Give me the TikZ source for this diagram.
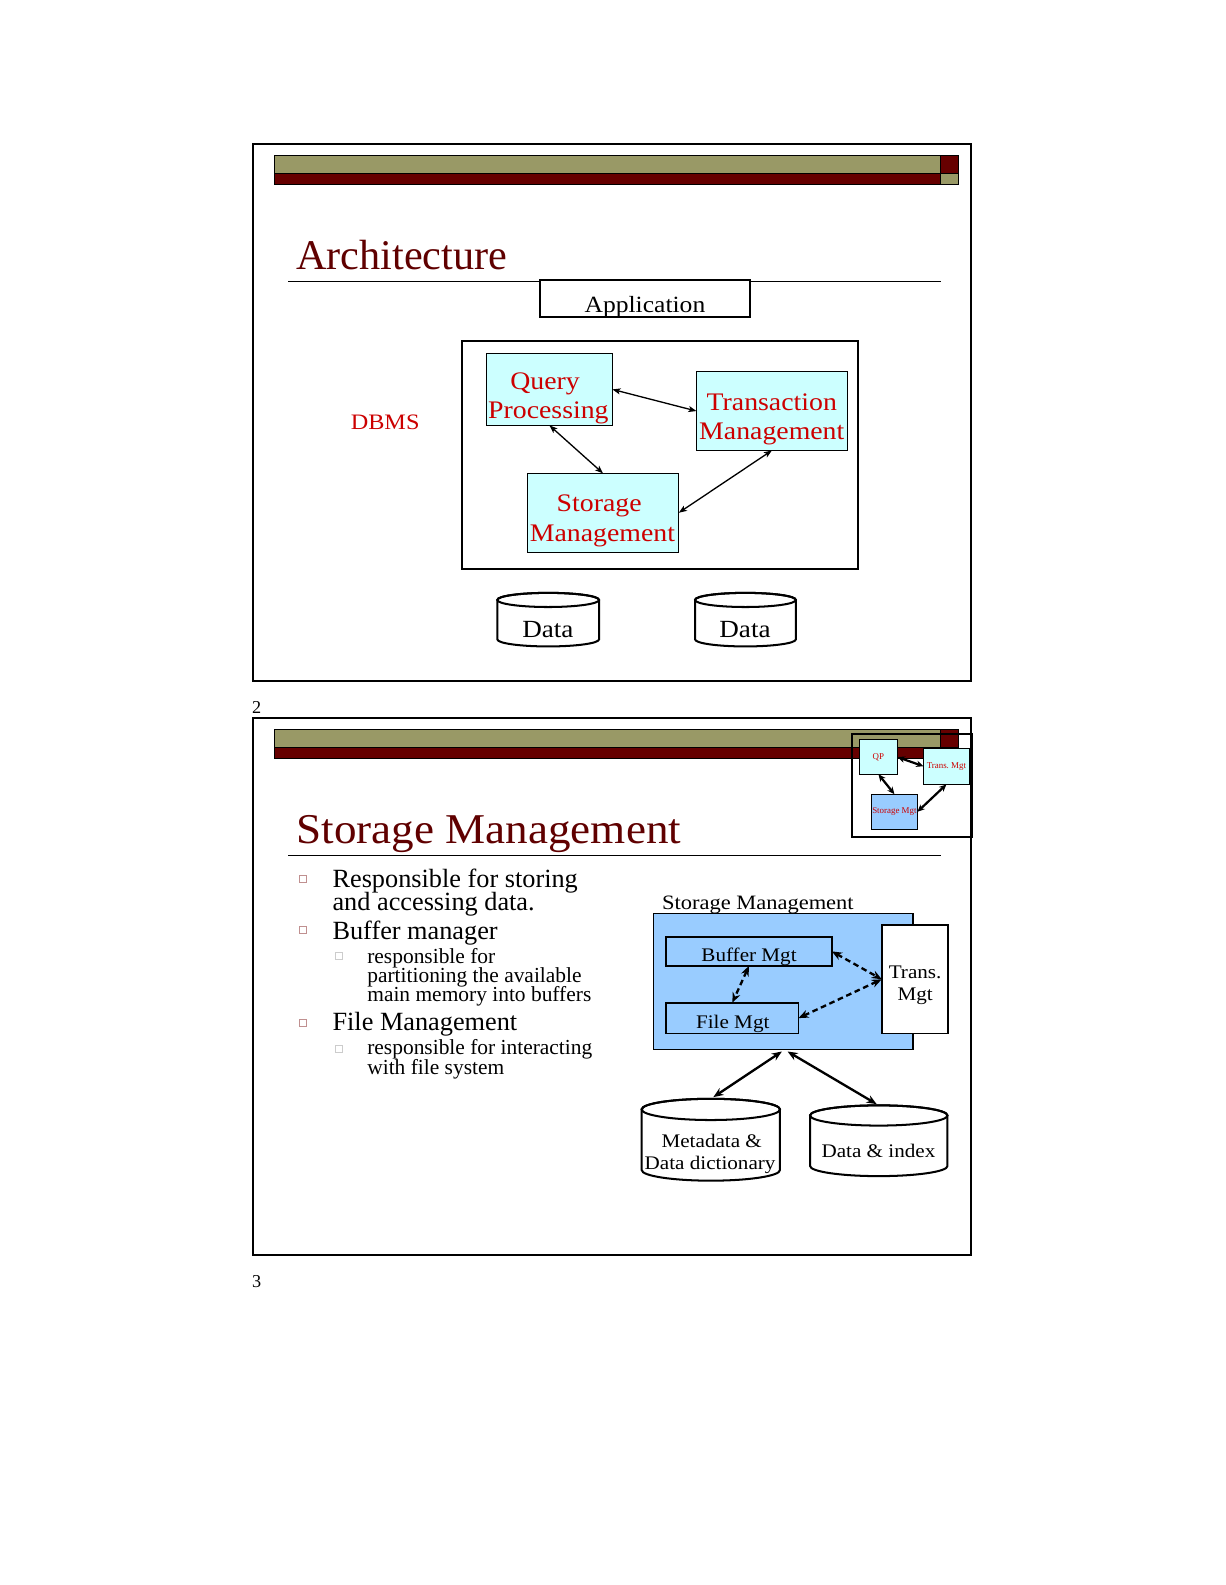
\documentclass[tikz,border=0pt]{standalone}
\usepackage{fontspec}
\setmainfont{Liberation Serif}
\newfontfamily\wideserif[FakeStretch=1.1]{Liberation Serif}
\newfontfamily\titlewide[FakeStretch=1.062]{Liberation Serif}
\usetikzlibrary{arrows.meta,calc}
\definecolor{hdrolive}{HTML}{999966}
\definecolor{hdrred}{HTML}{660000}
\definecolor{titlered}{HTML}{600000}
\definecolor{txtred}{HTML}{CC0000}
\definecolor{cyanfill}{HTML}{CCFFFF}
\definecolor{bluefill}{HTML}{99CCFF}
\definecolor{bulcol}{HTML}{C09090}
\definecolor{subbulcol}{HTML}{CCCCCC}
\newcommand{\setfs}[2]{\fontsize{#1pt}{#2pt}\selectfont}
\newcommand{\cylpath}[5]{%
  \filldraw[cylline] (#1,#3+#5) -- (#1,#4-#5)
    arc[start angle=180,end angle=0,x radius={(#2-#1)/2},y radius=#5]
    -- (#2,#3+#5)
    arc[start angle=0,end angle=-180,x radius={(#2-#1)/2},y radius=#5] -- cycle;
  \draw[cylline,fill=none] ({(#1+#2)/2},#3+#5) ellipse[x radius={(#2-#1)/2},y radius=#5];
}
\begin{document}
\begin{tikzpicture}[x=0.5pt,y=-0.5pt,
  every node/.style={inner sep=0pt, outer sep=0pt},
  framebox/.style={draw=black, line width=1pt},
  ruleline/.style={draw=black, line width=0.5pt},
  cbox/.style={draw=black, line width=0.5pt, fill=cyanfill},
  lbl1/.style={anchor=base, text=txtred, font=\wideserif\setfs{12.5}{15}},
  rtxt/.style={anchor=base, font=\wideserif\setfs{9.5}{11}},
  btxt/.style={anchor=base west, font=\setfs{13}{15}},
  stxt/.style={anchor=base west, font=\setfs{10.6}{12.5}},
  minibox/.style={draw=black, line width=0.5pt, text=txtred, font=\setfs{4.4}{5}},
  arr1/.style={line width=0.65pt, {Stealth[length=4pt,width=3pt,inset=1pt]}-{Stealth[length=4pt,width=3pt,inset=1pt]}},
  arrm/.style={line width=1.1pt, {Stealth[length=3.6pt,width=3.2pt]}-{Stealth[length=3.6pt,width=3.2pt]}},
  arr2/.style={line width=1.15pt, {Stealth[length=5pt,width=4pt]}-{Stealth[length=5pt,width=4pt]}},
  darr/.style={arr2, dash pattern=on 2.8pt off 1.8pt},
  cylline/.style={draw=black, line width=1pt, fill=white},
  bulsq/.style={draw=bulcol, line width=0.4pt, minimum size=3.75pt},
  subbulsq/.style={draw=subbulcol, line width=0.4pt, minimum size=3.6pt},
]
\useasboundingbox (0,0) rectangle (1212,1568);
\fill[white] (0,0) rectangle (1212,1568);

% ---------- slide frames ----------
\node[framebox, minimum width=355.5pt, minimum height=266pt] (slideA) at (605.5,408) {};
\node[framebox, minimum width=355.5pt, minimum height=266pt] (slideB) at (605.5,976) {};

% ---------- header bars ----------
\foreach \dy in {0,568}{
  \begin{scope}[shift={(0,\dy)}]
    \fill[hdrolive] (272,154) rectangle (930,171.5);
    \fill[hdrred] (272,171.5) rectangle (930,182.5);
    \fill[hdrred] (930,154) rectangle (948,171.5);
    \fill[hdrolive] (930,171.5) rectangle (948,182.5);
    \draw[ruleline] (272,154) rectangle (948,182.5);
    \draw[ruleline] (272,171.5) -- (948,171.5);
    \draw[ruleline] (930,154) -- (930,182.5);
  \end{scope}
}

% ---------- page numbers ----------
\node[anchor=base, font=\setfs{9}{11}] (pgA) at (254,706) {2};
\node[anchor=base, font=\setfs{9}{11}] (pgB) at (254,1274) {3};

% ================= slide 1 =================
\node[anchor=base west, text=titlered, font=\setfs{20.9}{25}] (titleA) at (293,267) {Architecture};
\draw[ruleline] (285,278) -- (931,278);

\node[draw, line width=1pt, fill=white, minimum width=104pt, minimum height=18.35pt] (app) at (638,295.65) {};
\node[anchor=base, font=\wideserif\setfs{11.5}{14}] (apptxt) at (638,309) {Application};

\node[anchor=base, text=txtred, font=\wideserif\setfs{10.9}{13}] (dbms) at (381,425.2) {DBMS};

\node[draw, line width=1pt, minimum width=196.2pt, minimum height=112.95pt] (dbmsbox) at (653,450.05) {};
\node[cbox, minimum width=62.3pt, minimum height=35.6pt] (qp) at (543.5,385.2) {};
\node[cbox, minimum width=74.65pt, minimum height=38.95pt] (tm) at (763.65,406.65) {};
\node[cbox, minimum width=74.9pt, minimum height=38.95pt] (sm) at (596.6,507.25) {};

\node[lbl1] (qpa) at (539.2,385.2) {Query};
\node[lbl1] (qpb) at (542.5,413.9) {Processing};
\node[lbl1] (tma) at (763.5,405.6) {Transaction};
\node[lbl1] (tmb) at (763.5,434.7) {Management};
\node[lbl1] (sma) at (592.7,506.2) {Storage};
\node[lbl1] (smb) at (596,535.3) {Management};

\draw[arr1] (qp.east) -- (tm.west);
\draw[arr1] (qp.south) -- (sm.north);
\draw[arr1] (tm.south) -- (sm.east);

\cylpath{492}{592.6}{586.5}{639.5}{7}
\cylpath{687.6}{787.3}{586.5}{639.5}{7}
\node[anchor=base, font=\wideserif\setfs{12.2}{14}] (dataA) at (542,630.5) {Data};
\node[anchor=base, font=\wideserif\setfs{12.2}{14}] (dataB) at (737,630.5) {Data};

% ================= slide 2 =================
% thumbnail inset
\node[draw, line width=1pt, minimum width=59.65pt, minimum height=51pt] (inset) at (902.35,777) {};
\node[minibox, fill=cyanfill, minimum width=19pt, minimum height=17pt] (qpm) at (869,749) {QP};
\node[minibox, fill=cyanfill, minimum width=22.75pt, minimum height=18pt] (tmm) at (936.25,758) {Trans.\ Mgt};
\node[minibox, fill=bluefill, minimum width=22.8pt, minimum height=17.45pt] (smm) at (884.8,803.05) {Storage Mgt};
\draw[arrm] (qpm.east) -- (tmm.west);
\draw[arrm] (qpm.south) -- (smm.north);
\draw[arrm] (tmm.south) -- (smm.east);

\node[anchor=base west, text=titlered, font=\titlewide\setfs{21}{25}] (titleB) at (293.5,834.4) {Storage Management};
\draw[ruleline] (285,846) -- (931,846);

% bullets
\node[bulsq] (bu1) at (299.6,869.5) {};
\node[bulsq] (bu2) at (299.6,919.9) {};
\node[bulsq] (bu3) at (299.6,1012) {};
\node[subbulsq] (sb1) at (335.1,945.3) {};
\node[subbulsq] (sb2) at (335.1,1037.6) {};

\node[btxt] (l1) at (329,877.6) {Responsible for storing};
\node[btxt] (l2) at (329,901.1) {and accessing data.};
\node[btxt] (l3) at (329,929.7) {Buffer manager};
\node[stxt] (l4) at (363.4,952.8) {responsible for};
\node[stxt] (l5) at (363.4,972) {partitioning the available};
\node[stxt] (l6) at (363.4,991.1) {main memory into buffers};
\node[btxt] (l7) at (329,1019.5) {File Management};
\node[stxt] (l8) at (363.4,1042.9) {responsible for interacting};
\node[stxt] (l9) at (363.4,1063.3) {with file system};

% right diagram
\node[anchor=base, font=\wideserif\setfs{10.1}{12}] (smlabel) at (749.8,900) {Storage Management};
\node[draw, line width=0.8pt, fill=bluefill, minimum width=128.3pt, minimum height=67.3pt] (smbig) at (774.7,970.9) {};
\node[draw, line width=0.8pt, fill=white, minimum width=32.65pt, minimum height=53.6pt] (trans) at (904.95,968.8) {};
\node[draw, line width=0.8pt, minimum width=81.95pt, minimum height=14.35pt] (buf) at (740.95,941.15) {};
\node[draw, line width=0.8pt, minimum width=65.45pt, minimum height=15.2pt] (filem) at (724.45,1007.2) {};

\node[rtxt] (buft) at (741,951.5) {Buffer Mgt};
\node[rtxt] (filet) at (724.9,1017.5) {File Mgt};
\node[rtxt] (transa) at (905.3,968.3) {Trans.};
\node[rtxt] (transb) at (905.3,989.8) {Mgt};

\draw[darr] (buf.south) -- (filem.north);
\draw[darr] (buf.east) -- (trans.west);
\draw[darr] (filem.east) -- (trans.west);

\node[minimum width=68.4pt, minimum height=40.5pt] (meta) at (703.2,1127.5) {};
\cylpath{634.8}{771.6}{1087}{1168}{10.5}
\node[rtxt] (metaa) at (704.1,1135) {Metadata \&};
\node[rtxt] (metab) at (702.5,1156.5) {Data dictionary};

\node[minimum width=67.95pt, minimum height=35pt] (dix) at (869.35,1128.5) {};
\cylpath{801.4}{937.3}{1093.5}{1163.5}{10}
\node[rtxt] (dixt) at (869,1145) {Data \& index};

\draw[arr2, shorten >=1.5pt] ([xshift=-0.6pt,yshift=-1pt]smbig.south) -- (meta.north);
\draw[arr2, shorten >=1.2pt] ([xshift=2.2pt,yshift=-1pt]smbig.south) -- (dix.north);
\end{tikzpicture}
\end{document}
